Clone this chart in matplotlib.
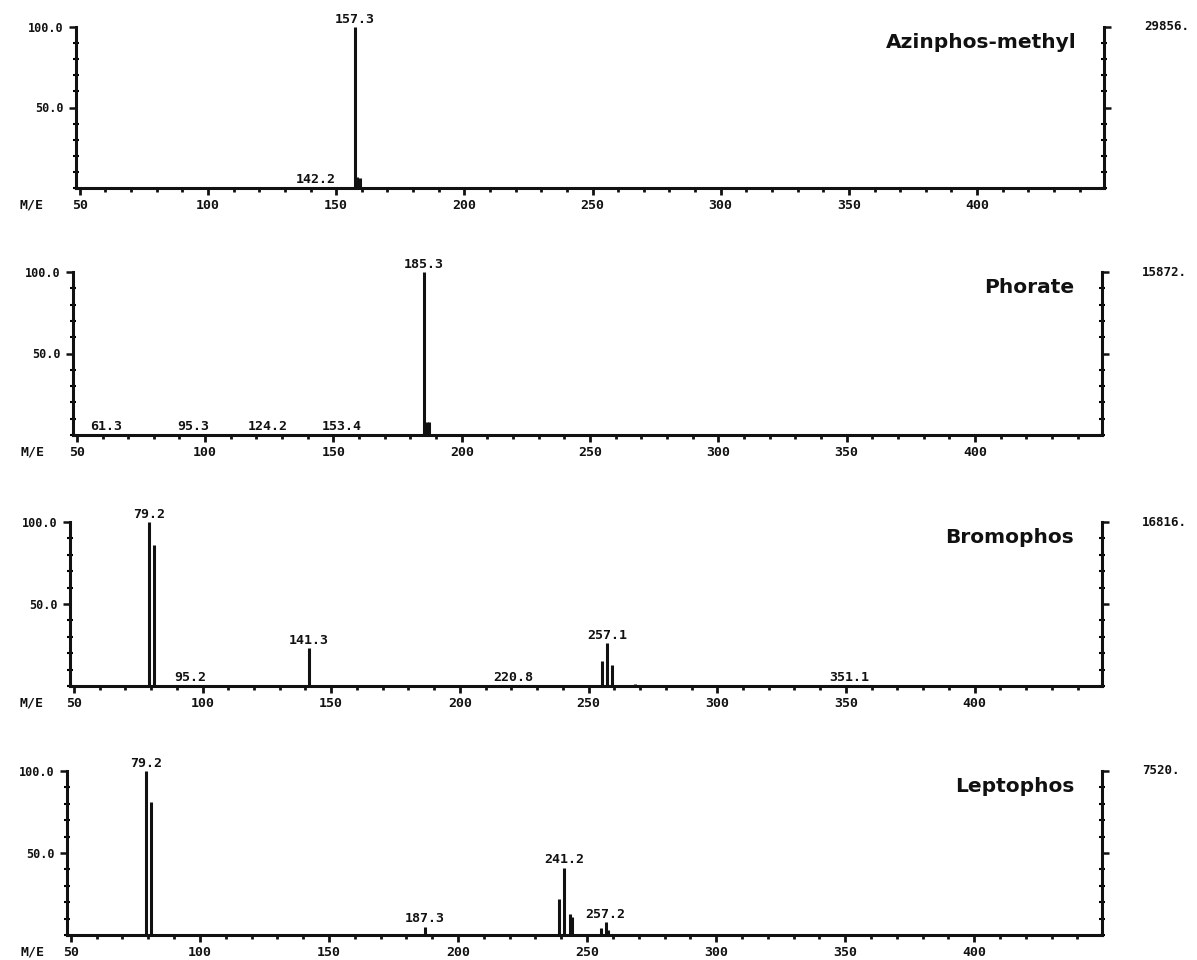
"""
Mass spectra of four organophosphorus pesticides (scanned-report style)
"""
import matplotlib
matplotlib.use('Agg')
import matplotlib.pyplot as plt
from matplotlib.ticker import MultipleLocator, FixedLocator

W, H = 1197, 960
fig = plt.figure(figsize=(W / 100, H / 100), dpi=100)
fig.patch.set_facecolor('white')

MONO = 'DejaVu Sans Mono'
INK = '#111111'

# ── Data ──────────────────────────────────────────────────────────────────────
names = ['Azinphos-methyl', 'Phorate', 'Bromophos', 'Leptophos']
totals = ['29856.', '15872.', '16816.', '7520.']

az_mz = [142.2, 157.3, 158.3, 159.3]
az_int = [0.6, 100, 7, 6]
az_lab = [142.2, 157.3]

ph_mz = [61.3, 95.3, 124.2, 153.4, 185.3, 186.3, 187.3]
ph_int = [0.5, 0.5, 0.5, 0.5, 100, 8, 8]
ph_lab = [61.3, 95.3, 124.2, 153.4, 185.3]

br_mz = [79.2, 81.2, 95.2, 141.3, 220.8, 255.1, 257.1, 259.1, 268.0, 351.1]
br_int = [100, 86, 0.5, 23, 0.5, 15, 26, 13, 1, 0.5]
br_lab = [79.2, 95.2, 141.3, 220.8, 257.1, 351.1]

le_mz = [79.2, 81.2, 187.3, 239.2, 241.2, 243.2, 244.2, 255.2, 257.2, 258.2]
le_int = [100, 81, 5, 22, 41, 13, 11, 4, 8, 3]
le_lab = [79.2, 187.3, 241.2, 257.2]

spectra = [(az_mz, az_int, az_lab), (ph_mz, ph_int, ph_lab),
           (br_mz, br_int, br_lab), (le_mz, le_int, le_lab)]

# panel boxes in pixels: left, right, top, bottom
boxes = [(76, 1104, 27, 188), (73, 1102, 272, 435),
         (70, 1102, 522, 686), (67, 1102, 771, 935)]

xticks = [50, 100, 150, 200, 250, 300, 350, 400]

for (mz, inten, labs), name, tot, (l, r, t, b) in zip(spectra, names, totals, boxes):
    ax = fig.add_axes([l / W, 1 - b / H, (r - l) / W, (b - t) / H])
    ax.set_xlim(48.5, 449.5)
    ax.set_ylim(0, 100)

    ax.vlines(mz, 0, inten, color=INK, linewidth=2.2)
    for m, v in zip(mz, inten):
        if m in labs:
            ax.text(m, v + 0.8, f'{m:.1f}', ha='center', va='bottom',
                    fontsize=9.5, fontweight='bold', family=MONO, color=INK)

    ax.spines['top'].set_visible(False)
    for s in ('left', 'right', 'bottom'):
        ax.spines[s].set_linewidth(2.2)
        ax.spines[s].set_color(INK)

    ax.xaxis.set_major_locator(FixedLocator(xticks))
    ax.xaxis.set_minor_locator(MultipleLocator(10))
    ax.set_xticklabels([str(v) for v in xticks])
    ax.tick_params(axis='x', which='major', direction='out', length=5,
                   width=2, pad=3, labelsize=9.5, colors=INK)
    ax.tick_params(axis='x', which='minor', direction='out', length=3,
                   width=2, colors=INK)

    ax.yaxis.set_major_locator(FixedLocator([50, 100]))
    ax.yaxis.set_minor_locator(MultipleLocator(10))
    ax.set_yticklabels(['50.0', '100.0'])
    ax.tick_params(axis='y', which='major', direction='out', length=5,
                   width=1.8, pad=4, labelsize=8.5, left=True, right=True,
                   colors=INK)
    ax.tick_params(axis='y', which='minor', direction='inout', length=5,
                   width=1.5, left=True, right=True)
    for lab in ax.get_xticklabels() + ax.get_yticklabels():
        lab.set_fontfamily(MONO)
        lab.set_fontweight('bold')

    ax.annotate('M/E', xy=(0, 0), xycoords='axes fraction',
                xytext=(-(l - 20) * 0.72, -12.5), textcoords='offset points',
                ha='left', va='center', fontsize=9.5, fontweight='bold',
                family=MONO, color=INK)
    ax.annotate(name, xy=(1, 1), xycoords='axes fraction',
                xytext=(-20, -11), textcoords='offset points',
                ha='right', va='center', fontsize=14.5, fontweight='bold',
                color=INK)
    ax.annotate(tot, xy=(1, 1), xycoords='axes fraction',
                xytext=(29, 0), textcoords='offset points',
                ha='left', va='center', fontsize=9, fontweight='bold',
                family=MONO, color=INK)

plt.savefig('out.png', dpi=100, facecolor='white')
plt.close()
